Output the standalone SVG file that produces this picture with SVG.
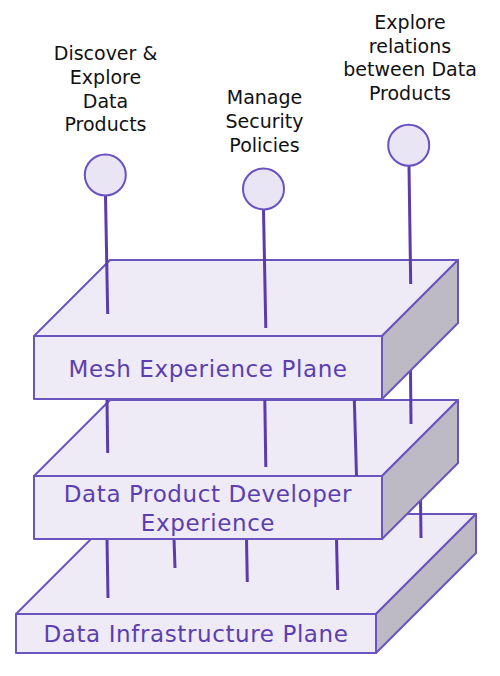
<svg xmlns="http://www.w3.org/2000/svg" width="500" height="676" viewBox="0 0 500 676">
<style>
.face{fill:#eeeaf6;stroke:#6a55bf;stroke-width:2;stroke-linejoin:round}
.side{fill:#bdb9c5;stroke:#6a55bf;stroke-width:2;stroke-linejoin:round}
.ln{stroke:#5a3dab;stroke-width:3;stroke-linecap:butt;fill:none}
.pin{fill:#e9e5f5;stroke:#6a52c0;stroke-width:2}
.lbl{font-family:"DejaVu Sans","Liberation Sans",sans-serif;font-size:19px;fill:#111;text-anchor:middle}
.plane{font-family:"DejaVu Sans","Liberation Sans",sans-serif;font-size:23px;letter-spacing:0.6px;fill:#5b3fae;text-anchor:middle}
</style>
<rect width="500" height="676" fill="#fff"/>
<g id="infra-plane">
<polygon class="face" points="16,614 116,514 476,514 376,614"/>
<polygon class="side" points="376,614 476,514 476,553 376,653"/>
<rect class="face" x="16" y="614" width="360" height="39"/>
<text class="plane" x="196" y="642">Data Infrastructure Plane</text>
</g>
<g id="connectors-lower">
<line class="ln" x1="107" y1="539" x2="108" y2="598"/>
<line class="ln" x1="174" y1="539" x2="175" y2="568"/>
<line class="ln" x1="246.5" y1="539" x2="247.3" y2="582"/>
<line class="ln" x1="336.5" y1="539" x2="337.7" y2="590"/>
<line class="ln" x1="420.5" y1="500" x2="421" y2="538"/>
</g>
<g id="dev-plane">
<polygon class="face" points="34,476 110,400 458,400 382,476"/>
<polygon class="side" points="382,476 458,400 458,463 382,539"/>
<rect class="face" x="34" y="476" width="348" height="63"/>
<text class="plane" x="208" y="502">Data Product Developer</text>
<text class="plane" x="208" y="531">Experience</text>
</g>
<g id="connectors-middle">
<line class="ln" x1="107" y1="399" x2="107.7" y2="453"/>
<line class="ln" x1="264.8" y1="399" x2="265.8" y2="467"/>
<line class="ln" x1="354.3" y1="399" x2="356.5" y2="476"/>
<line class="ln" x1="410.5" y1="370" x2="411" y2="424"/>
</g>
<g id="mesh-plane">
<polygon class="face" points="34,336 110,260 458,260 382,336"/>
<polygon class="side" points="382,336 458,260 458,323 382,399"/>
<rect class="face" x="34" y="336" width="348" height="63"/>
<text class="plane" x="208" y="377">Mesh Experience Plane</text>
</g>
<g id="connectors-top">
<line class="ln" x1="105.5" y1="196" x2="107.7" y2="314"/>
<line class="ln" x1="263.5" y1="210" x2="265.8" y2="328"/>
<line class="ln" x1="409" y1="166" x2="410.7" y2="284"/>
</g>
<g id="discover">
<circle class="pin" cx="105.3" cy="175" r="20.5"/>
<text class="lbl" x="105.5" y="60">Discover &amp;</text>
<text class="lbl" x="105.5" y="84">Explore</text>
<text class="lbl" x="105.5" y="107.5">Data</text>
<text class="lbl" x="105.5" y="131">Products</text>
</g>
<g id="security">
<circle class="pin" cx="263.5" cy="189" r="20.5"/>
<text class="lbl" x="264.5" y="104">Manage</text>
<text class="lbl" x="264.5" y="128">Security</text>
<text class="lbl" x="264.5" y="151.5">Policies</text>
</g>
<g id="relations">
<circle class="pin" cx="408.7" cy="145.3" r="20.5"/>
<text class="lbl" x="410" y="29">Explore</text>
<text class="lbl" x="410" y="52.5">relations</text>
<text class="lbl" x="410" y="76">between Data</text>
<text class="lbl" x="410" y="100">Products</text>
</g>
</svg>
